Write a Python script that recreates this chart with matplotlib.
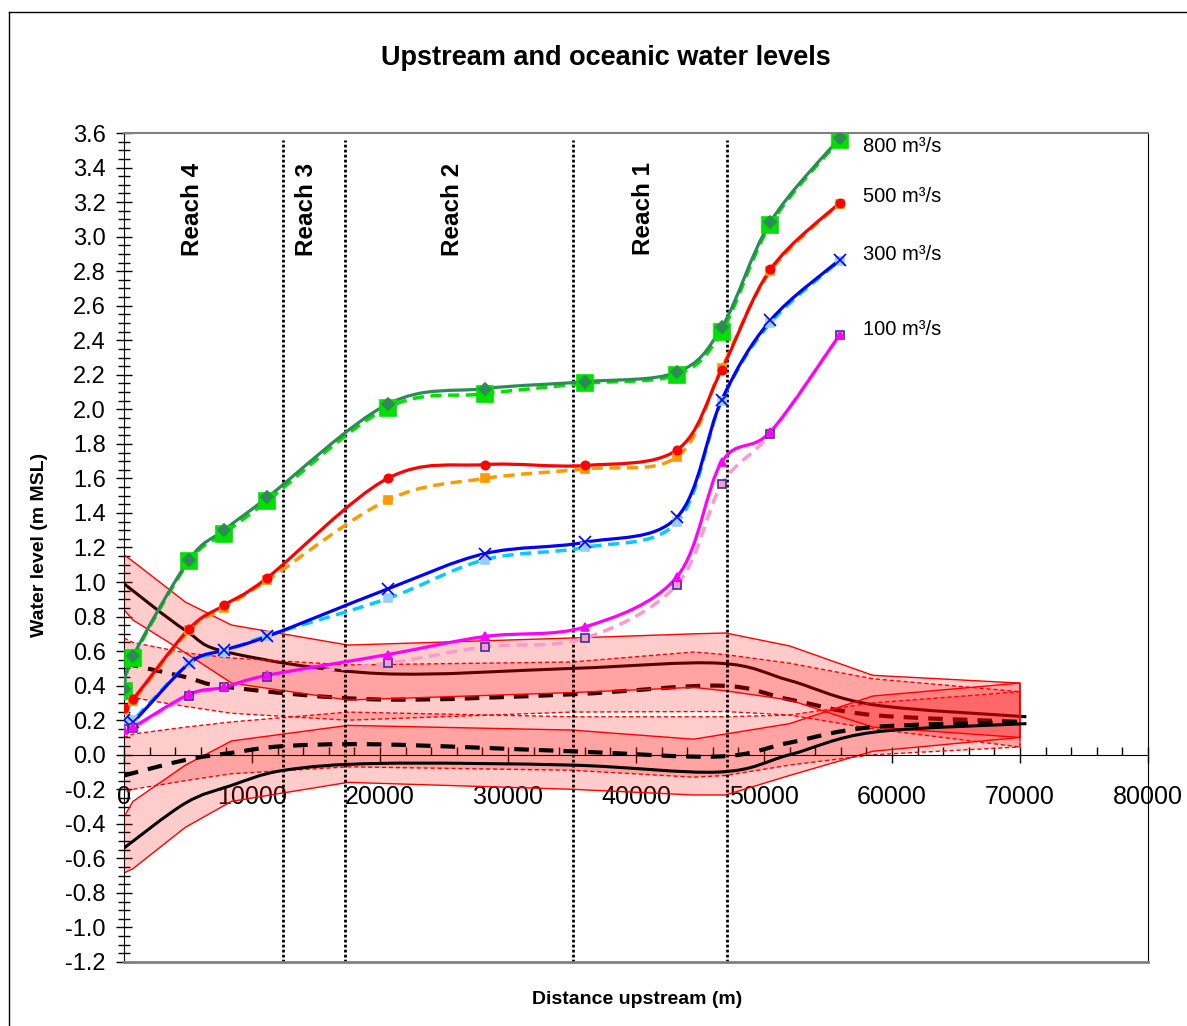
import numpy as np
import matplotlib
matplotlib.use('Agg')
import matplotlib.pyplot as plt
from matplotlib.path import Path
from matplotlib.patches import PathPatch
from matplotlib.lines import Line2D
from matplotlib.ticker import MultipleLocator, FormatStrFormatter

plt.rcParams['font.family'] = ['Liberation Sans', 'DejaVu Sans']
plt.rcParams['axes.unicode_minus'] = False

# ---------------- data ----------------
# upstream water-level stations (m)
x_stations = [0, 700, 5100, 7800, 11200, 20600, 28200, 36000, 43200, 46700, 50500, 55900]
q800_solid = [0.38, 0.57, 1.13, 1.30, 1.49, 2.03, 2.12, 2.16, 2.215, 2.475, 3.085, 3.57]
q800_dash = [0.37, 0.56, 1.12, 1.28, 1.47, 2.01, 2.09, 2.15, 2.20, 2.45, 3.07, 3.56]
q500_solid = [0.27, 0.32, 0.73, 0.865, 1.025, 1.60, 1.68, 1.675, 1.765, 2.23, 2.81, 3.195]
q500_dash = [0.26, 0.31, 0.72, 0.85, 1.01, 1.475, 1.60, 1.655, 1.725, 2.24, 2.80, 3.19]
q300_solid = [0.20, 0.19, 0.53, 0.605, 0.685, 0.96, 1.165, 1.23, 1.375, 2.055, 2.515, 2.865]
q300_dash = [0.19, 0.20, 0.53, 0.595, 0.69, 0.905, 1.13, 1.20, 1.345, 2.05, 2.50, 2.86]
q100_solid = [0.145, 0.16, 0.35, 0.39, 0.46, 0.58, 0.685, 0.74, 1.03, 1.695, 1.87, 2.43]
q100_dash = [0.15, 0.155, 0.34, 0.39, 0.45, 0.53, 0.625, 0.675, 0.985, 1.565, 1.86, 2.43]
flow_labels = ['800 m³/s', '500 m³/s', '300 m³/s', '100 m³/s']
flow_label_y = [3.52, 3.235, 2.894, 2.465]

# oceanic water levels (mean curves)
x_ocean_hi = [0, 4800, 8300, 20000, 35000, 46500, 52000, 58500, 70500]
hi_solid = [0.99, 0.72, 0.59, 0.47, 0.50, 0.53, 0.43, 0.29, 0.22]
hi_dash = [0.53, 0.45, 0.39, 0.32, 0.35, 0.40, 0.32, 0.23, 0.19]
x_ocean_lo = [0, 4800, 8300, 12500, 20000, 35000, 46500, 52000, 58500, 70500]
lo_solid = [-0.54, -0.28, -0.18, -0.09, -0.05, -0.06, -0.10, 0.0, 0.13, 0.18]
lo_dash = [-0.12, -0.03, 0.01, 0.05, 0.06, 0.02, -0.01, 0.07, 0.16, 0.19]

# envelopes
x_band = [0, 700, 4800, 8400, 17500, 35000, 44500, 47000, 52000, 58500, 70000]
bandA_hi = [1.157, 1.12, 0.884, 0.751, 0.635, 0.676, 0.70, 0.705, 0.63, 0.46, 0.415]
bandA_lo = [0.84, 0.78, 0.59, 0.415, 0.317, 0.36, 0.39, 0.37, 0.317, 0.16, 0.10]
bandB_hi = [0.676, 0.65, 0.59, 0.56, 0.52, 0.537, 0.595, 0.58, 0.53, 0.44, 0.365]
bandB_lo = [0.357, 0.33, 0.28, 0.24, 0.20, 0.247, 0.25, 0.25, 0.23, 0.15, 0.045]
bandC_hi = [-0.36, -0.27, -0.06, 0.08, 0.17, 0.143, 0.09, 0.12, 0.18, 0.34, 0.415]
bandC_lo = [-0.685, -0.66, -0.42, -0.27, -0.16, -0.20, -0.233, -0.233, -0.12, 0.02, 0.10]
bandD_hi = [0.10, 0.12, 0.16, 0.19, 0.247, 0.22, 0.22, 0.22, 0.23, 0.30, 0.365]
bandD_lo = [-0.22, -0.20, -0.15, -0.11, -0.07, -0.09, -0.13, -0.12, -0.06, 0.0, 0.045]

reach_x = [12400, 17300, 35100, 47100]
reach_labels = ['Reach 4', 'Reach 3', 'Reach 2', 'Reach 1']
reach_label_x = [5390, 14220, 25625, 40550]


def smooth_path(x, y):
    pts = np.column_stack([x, y]).astype(float)
    n = len(pts)
    verts = [pts[0]]
    codes = [Path.MOVETO]
    for i in range(n - 1):
        p0 = pts[i - 1] if i > 0 else pts[i]
        p1 = pts[i]
        p2 = pts[i + 1]
        p3 = pts[i + 2] if i + 2 < n else pts[i + 1]
        c1 = p1 + (p2 - p0) / 6.0
        c2 = p2 - (p3 - p1) / 6.0
        verts += [c1, c2, p2]
        codes += [Path.CURVE4] * 3
    return Path(verts, codes)


def smooth_line(ax, x, y, color, lw, ls='-', z=5):
    patch = PathPatch(smooth_path(x, y), fill=False, edgecolor=color, lw=lw,
                      linestyle=ls, zorder=z, capstyle='butt')
    ax.add_patch(patch)


fig = plt.figure(figsize=(11.87, 10.26), dpi=100)
ax = fig.add_axes([0.10447, 0.06238, 0.86268, 0.80799])
ax.set_xlim(0, 80000)
ax.set_ylim(-1.2, 3.6)

# upper oceanic mean lines (beneath the envelopes)
smooth_line(ax, x_ocean_hi, hi_solid, 'black', 2.2, '-', z=1)
smooth_line(ax, x_ocean_hi, hi_dash, 'black', 3.0, (0, (3.5, 2.4)), z=1)

# envelopes
for lo, hi, ls in [(bandA_lo, bandA_hi, '-'), (bandB_lo, bandB_hi, (0, (3, 2))),
                   (bandC_lo, bandC_hi, '-'), (bandD_lo, bandD_hi, (0, (3, 2)))]:
    xs = np.r_[x_band, x_band[::-1]]
    ys = np.r_[hi, lo[::-1]]
    ax.fill(xs, ys, facecolor=(1, 0, 0, 0.2), edgecolor='red', lw=1.0,
            linestyle=ls, zorder=2)

# lower oceanic mean lines
smooth_line(ax, x_ocean_lo, lo_solid, 'black', 2.2, '-', z=3)
smooth_line(ax, x_ocean_lo, lo_dash, 'black', 3.0, (0, (3.5, 2.4)), z=3)

# reach boundaries
ax.vlines(reach_x, -1.2, 3.56, colors='black', linestyles=(0, (1, 0.8)), lw=2.0, zorder=4)
for rx, rl in zip(reach_label_x, reach_labels):
    ax.text(rx, 3.16, rl, rotation=90, ha='center', va='center',
            fontsize=17.5, fontweight='bold', zorder=7)

# upstream water levels
series = [
    (q800_dash, '#00E000', (0, (3.2, 1.9)), 's', 11, '#00E000', '#00E000'),
    (q800_solid, '#2E8B57', '-', 'D', 6, '#2E8B57', '#2E8B57'),
    (q500_dash, '#FF9900', (0, (3.2, 1.9)), 's', 6, '#FF9900', '#FF9900'),
    (q500_solid, '#FF0000', '-', 'o', 6, '#FF0000', '#FF0000'),
    (q300_dash, '#00CCFF', (0, (3.2, 1.9)), 's', 6, '#99CCFF', '#99CCFF'),
    (q300_solid, '#0000FF', '-', 'x', 8, '#0000FF', '#0000FF'),
    (q100_dash, '#FF99CC', (0, (3.2, 1.9)), 's', 6, '#FF99CC', '#333399'),
    (q100_solid, '#FF00FF', '-', '^', 6, '#FF00FF', '#FF00FF'),
]
for vals, col, ls, mk, ms, mfc, mec in series:
    lw = 2.5 if ls != '-' else 2.3
    smooth_line(ax, x_stations, vals, col, lw, ls, z=5)
    ax.plot(x_stations, vals, linestyle='none', marker=mk, markersize=ms,
            markerfacecolor=mfc, markeredgecolor=mec, markeredgewidth=1.2, zorder=6)

for lab, ly in zip(flow_labels, flow_label_y):
    ax.text(57700, ly, lab, ha='left', va='center', fontsize=14.5, zorder=7)

# axes styling
ax.spines['bottom'].set_position(('data', 0))
ax.spines['bottom'].set_color('black')
ax.spines['left'].set_color('black')
ax.spines['top'].set_color('#808080')
ax.spines['top'].set_linewidth(1.5)
ax.spines['right'].set_color('black')
ax.plot([0, 1], [0, 0], transform=ax.transAxes, color='#808080', lw=2.0, clip_on=False, zorder=10)

ax.xaxis.set_major_locator(MultipleLocator(10000))
ax.xaxis.set_minor_locator(MultipleLocator(2000))
ax.yaxis.set_major_locator(MultipleLocator(0.2))
ax.yaxis.set_minor_locator(MultipleLocator(0.05))
ax.yaxis.set_major_formatter(FormatStrFormatter('%.1f'))
ax.xaxis.set_major_formatter(FormatStrFormatter('%d'))
ax.tick_params(axis='x', which='major', direction='inout', length=12, width=1, labelsize=18, pad=16)
ax.tick_params(axis='x', which='minor', direction='in', length=6, width=1)
ax.tick_params(axis='y', which='major', direction='inout', length=12, width=1, labelsize=17, pad=7)
ax.tick_params(axis='y', which='minor', direction='inout', length=8, width=1)

fig.text(606 / 1187, 1 - 58 / 1026, 'Upstream and oceanic water levels', ha='center', va='center',
         fontsize=19.5, fontweight='bold')
fig.text(40 / 1187, 1 - 545 / 1026, 'Water level (m MSL)', rotation=90, ha='center', va='center',
         fontsize=14, fontweight='bold')
fig.text(637 / 1187, 1 - 1000 / 1026, 'Distance upstream (m)', ha='center', va='center',
         fontsize=14, fontweight='bold')

# chart-area frame
fig.add_artist(Line2D([9 / 1187, 9 / 1187], [0, 1 - 12 / 1026], transform=fig.transFigure, color='black', lw=1))
fig.add_artist(Line2D([9 / 1187, 1], [1 - 12 / 1026, 1 - 12 / 1026], transform=fig.transFigure, color='black', lw=1))

fig.savefig('out.png', dpi=100)
